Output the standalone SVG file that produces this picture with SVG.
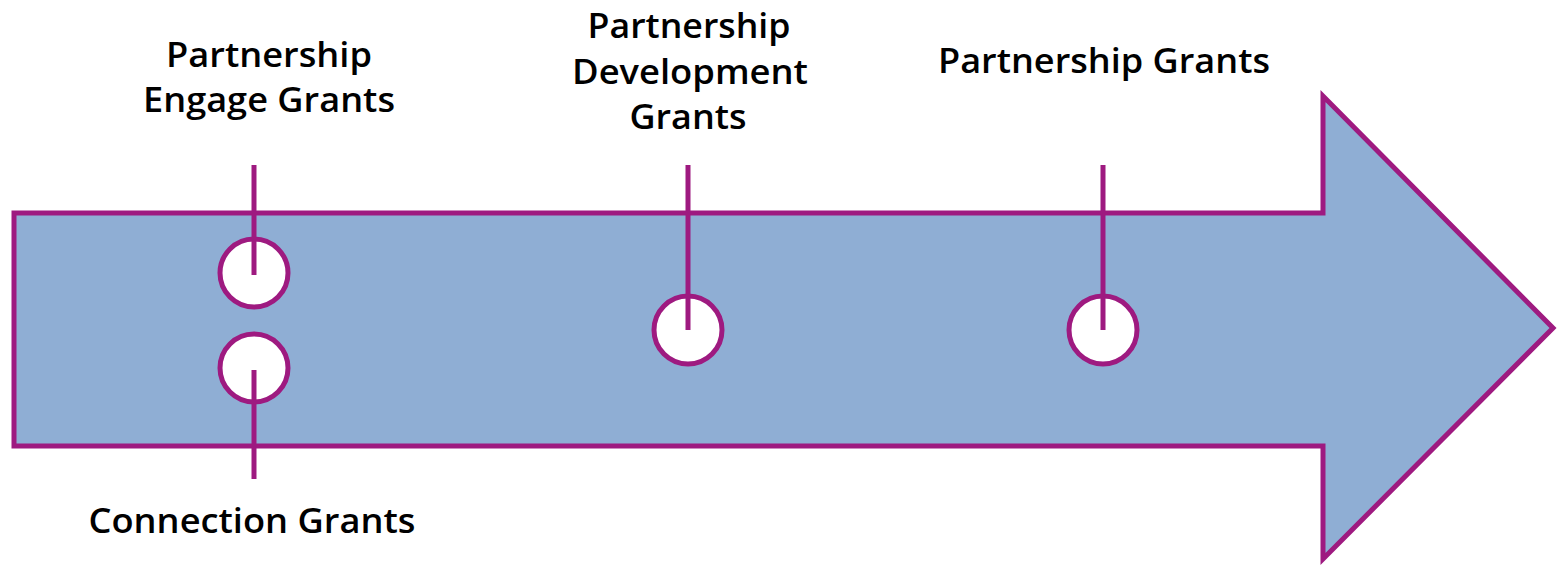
<svg xmlns="http://www.w3.org/2000/svg" width="1557" height="571" viewBox="0 0 1557 571">
<style>
.lbl{font-family:"Open Sans","Liberation Sans",sans-serif;font-size:35px;font-weight:600;fill:#000;text-anchor:middle}
.stem{stroke:#9E1A80;stroke-width:5;fill:none}
.dot{fill:#fff;stroke:#9E1A80;stroke-width:5}
</style>
<rect width="1557" height="571" fill="#fff"/>
<g id="arrow">
<path d="M14,213 L1323,213 L1323,96 L1553,328 L1323,559 L1323,446 L14,446 Z" fill="#8FAED4" stroke="#9E1A80" stroke-width="5" stroke-linejoin="miter"/>
</g>
<g id="node-engage">
<circle class="dot" cx="254" cy="273" r="34"/>
<text class="lbl" x="269" y="67" textLength="206" lengthAdjust="spacingAndGlyphs">Partnership</text>
<text class="lbl" x="269" y="112" textLength="252" lengthAdjust="spacingAndGlyphs">Engage Grants</text>
</g>
<g id="node-connection">
<circle class="dot" cx="254" cy="368" r="34"/>
<text class="lbl" x="252" y="533" textLength="327" lengthAdjust="spacingAndGlyphs">Connection Grants</text>
</g>
<g id="node-development">
<circle class="dot" cx="688" cy="330" r="34"/>
<text class="lbl" x="689" y="38" textLength="203" lengthAdjust="spacingAndGlyphs">Partnership</text>
<text class="lbl" x="690" y="84" textLength="236" lengthAdjust="spacingAndGlyphs">Development</text>
<text class="lbl" x="688" y="129" textLength="117" lengthAdjust="spacingAndGlyphs">Grants</text>
</g>
<g id="node-partnership">
<circle class="dot" cx="1103" cy="330" r="34"/>
<text class="lbl" x="1104" y="73" textLength="332" lengthAdjust="spacingAndGlyphs">Partnership Grants</text>
</g>
<g id="connectors">
<line class="stem" x1="254" y1="165" x2="254" y2="275"/>
<line class="stem" x1="254" y1="370" x2="254" y2="479"/>
<line class="stem" x1="688" y1="165" x2="688" y2="330"/>
<line class="stem" x1="1103" y1="165" x2="1103" y2="330"/>
</g>
</svg>
